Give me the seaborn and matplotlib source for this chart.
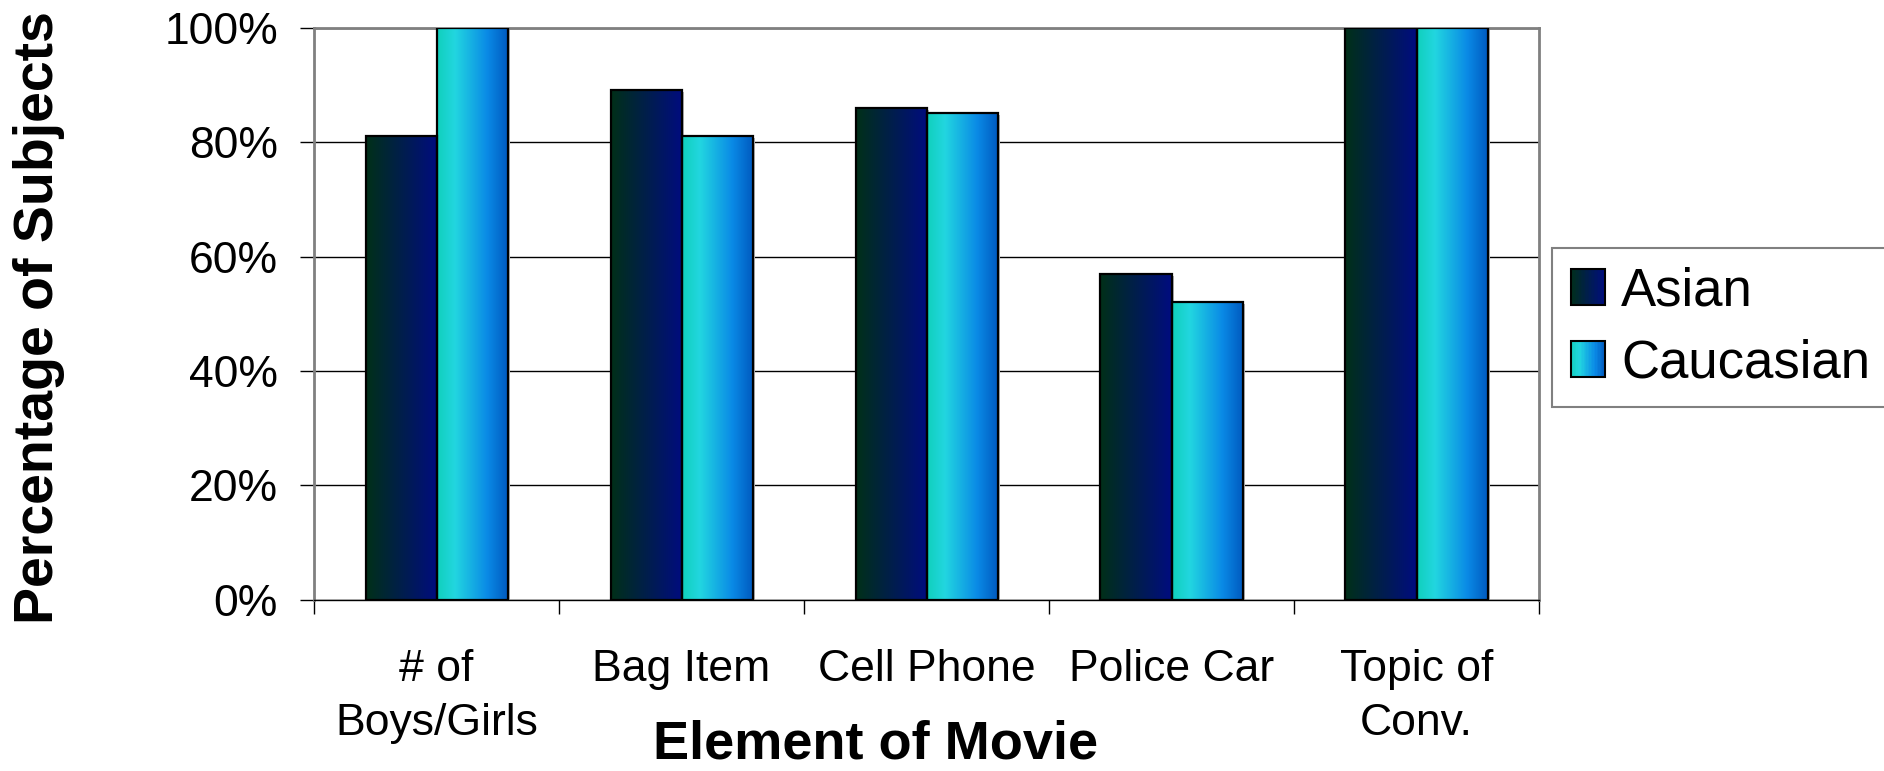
import numpy as np
import pandas as pd
import matplotlib
matplotlib.use("Agg")
import matplotlib.pyplot as plt
import matplotlib.transforms as mtransforms
import seaborn as sns
from matplotlib.patches import Rectangle
from matplotlib.legend_handler import HandlerBase
from matplotlib.colors import LinearSegmentedColormap, to_hex
from matplotlib.ticker import FuncFormatter

# Data
categories = ["# of\nBoys/Girls", "Bag Item", "Cell Phone", "Police Car", "Topic of\nConv."]
groups = ["Asian", "Caucasian"]
asian = [81, 89, 86, 57, 100]
caucasian = [100, 81, 85, 52, 100]
y_ticks = [0, 20, 40, 60, 80, 100]

df = pd.DataFrame({
    "element": categories * 2,
    "group": [groups[0]] * len(asian) + [groups[1]] * len(caucasian),
    "pct": asian + caucasian,
})

sns.set_style("white")
plt.rcParams["font.family"] = ["Liberation Sans", "DejaVu Sans"]
plt.rcParams["text.color"] = "black"
plt.rcParams["xtick.labelcolor"] = "black"
plt.rcParams["ytick.labelcolor"] = "black"

# Horizontal gradient fills for each group
gradients = {
    "Asian": LinearSegmentedColormap.from_list(
        "asian", [(0.0, "#003018"), (1.0, "#000c80")]),
    "Caucasian": LinearSegmentedColormap.from_list(
        "caucasian", [(0.0, "#10d0bc"), (0.25, "#22d6e0"), (0.7, "#0a8ae6"), (1.0, "#0058be")]),
}
palette = {g: to_hex(gradients[g](0.5)) for g in groups}

fig = plt.figure(figsize=(18.84, 7.71), dpi=100)
ax = fig.add_axes([0.1667, 0.2218, 0.8169 - 0.1667, 0.9643 - 0.2218])

sns.barplot(data=df, x="element", y="pct", hue="group", order=categories,
            hue_order=groups, palette=palette, width=0.58, gap=0,
            saturation=1, edgecolor="black", linewidth=1.6, legend=False,
            ax=ax, zorder=3)

# Replace flat fills with gradients, add a soft drop shadow
shadow_offset = mtransforms.ScaledTranslation(0.025, -0.02, fig.dpi_scale_trans)
color_to_group = {palette[g]: g for g in groups}
for patch in list(ax.patches):
    grp = color_to_group.get(to_hex(patch.get_facecolor()))
    if grp is None:
        continue
    x, y = patch.get_x(), patch.get_y()
    w, h = patch.get_width(), patch.get_height()
    ax.imshow(np.linspace(0, 1, 256)[None, :], cmap=gradients[grp],
              extent=[x, x + w, y, y + h], aspect="auto",
              interpolation="bilinear", zorder=2.6)
    ax.add_patch(Rectangle((x, y), w, h, transform=ax.transData + shadow_offset,
                           facecolor="#b4b4b4", edgecolor="none", zorder=2.4))
    patch.set_facecolor("none")

ax.set_xlim(-0.5, len(categories) - 0.5)
ax.set_ylim(0, 100)
ax.set_xlabel("")
ax.set_ylabel("")

# Y axis
ax.set_yticks(y_ticks)
ax.yaxis.set_major_formatter(FuncFormatter(lambda v, _: f"{v:.0f}%"))
ax.tick_params(axis="y", left=True, length=10, width=1, color="black",
               labelsize=32, pad=16, labelcolor="black")
ax.yaxis.grid(True, color="black", linewidth=1)
ax.set_axisbelow(True)

# X axis: labels centred on groups, ticks on group boundaries
ax.tick_params(axis="x", which="major", bottom=True, length=0, labelsize=32,
               pad=35, labelcolor="black")
ax.set_xticks(np.arange(-0.5, len(categories), 1), minor=True)
ax.tick_params(axis="x", which="minor", bottom=True, length=10, width=1, color="black")
for lbl in ax.get_xticklabels():
    lbl.set_linespacing(1.42)

for side in ["top", "right", "left"]:
    ax.spines[side].set_visible(True)
    ax.spines[side].set_color("#808080")
    ax.spines[side].set_linewidth(2)
ax.spines["bottom"].set_color("black")
ax.spines["bottom"].set_linewidth(1)

fig.text(0.0207, 0.5875, "Percentage of Subjects", rotation=90, ha="center",
         va="center", fontsize=40, fontweight="bold", color="black")
fig.text(0.465, 0.0156, "Element of Movie", ha="center", va="baseline",
         fontsize=39, fontweight="bold", color="black")


class GradientHandler(HandlerBase):
    def __init__(self, cmap):
        super().__init__()
        self.cmap = cmap

    def create_artists(self, legend, orig_handle, xdescent, ydescent,
                       width, height, fontsize, trans):
        n = 24
        x0, y0 = -xdescent, -ydescent
        arts = []
        for i in range(n):
            arts.append(Rectangle((x0 + width * i / n, y0), width / n + 0.3, height,
                                  facecolor=self.cmap((i + 0.5) / n),
                                  edgecolor="none", transform=trans))
        arts.append(Rectangle((x0, y0), width, height, facecolor="none",
                              edgecolor="black", linewidth=1.5, transform=trans))
        return arts


handles = [Rectangle((0, 0), 1, 1) for _ in groups]
leg = fig.legend(handles, groups,
                 handler_map={h: GradientHandler(gradients[g]) for h, g in zip(handles, groups)},
                 loc="upper left", bbox_to_anchor=(0.8238, 0.6783), borderaxespad=0,
                 fontsize=38, frameon=True, fancybox=False, framealpha=1,
                 edgecolor="#808080", handlelength=0.66, handleheight=0.66,
                 handletextpad=0.3, labelspacing=0.42, borderpad=0.35)
leg.get_frame().set_linewidth(1.5)
for t in leg.get_texts():
    t.set_color("black")

fig.savefig("out.png", dpi=100)
